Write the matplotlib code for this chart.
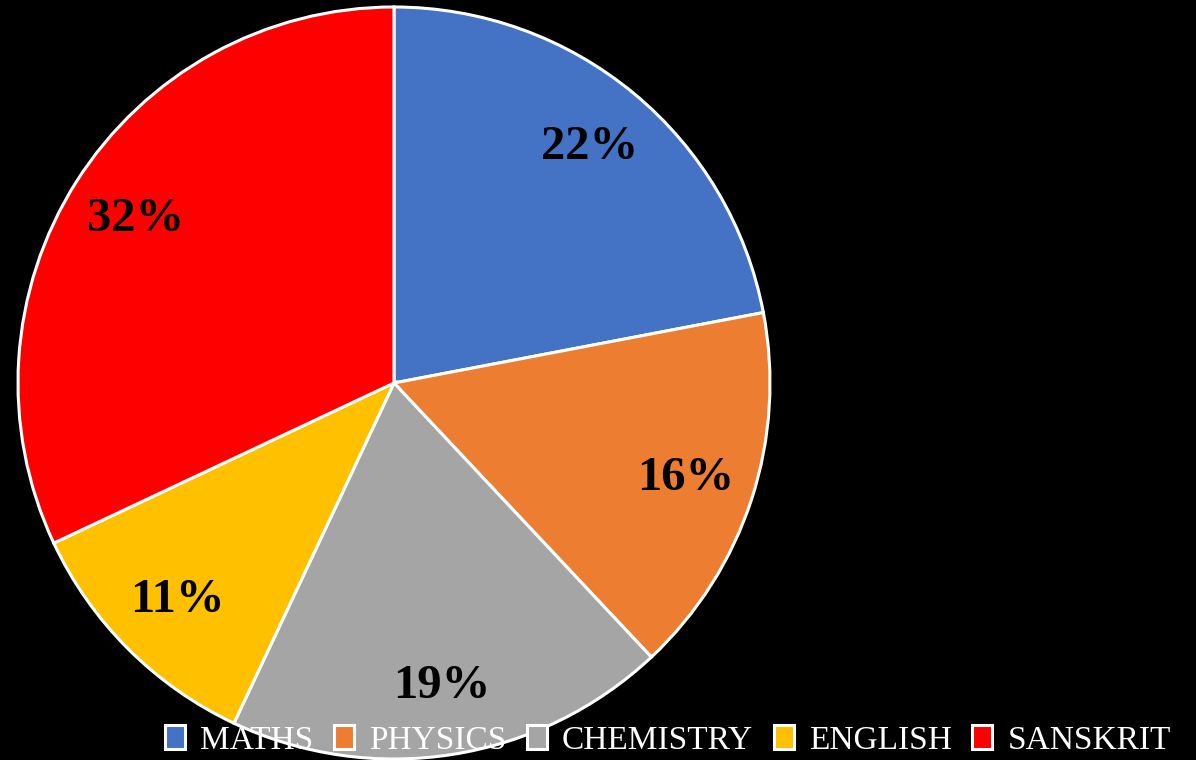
import matplotlib
matplotlib.use("Agg")
import matplotlib.pyplot as plt

subjects = ["MATHS", "PHYSICS", "CHEMISTRY", "ENGLISH", "SANSKRIT"]
shares = [22, 16, 19, 11, 32]
colors = ["#4472C4", "#ED7D31", "#A5A5A5", "#FFC000", "#FF0000"]

W, H = 1196, 760
fig = plt.figure(figsize=(W / 100, H / 100), dpi=100, facecolor="black")
ax = fig.add_axes([0, 0, 1, 1])
ax.set_facecolor("black")

wedges, texts, autotexts = ax.pie(
    shares, colors=colors, startangle=90, counterclock=False,
    center=(394, H - 383), radius=376,
    autopct="%1.0f%%", pctdistance=0.815,
    wedgeprops=dict(edgecolor="white", linewidth=2.2),
    textprops=dict(fontsize=35, fontweight="bold", family="Liberation Serif", color="black"),
)
ax.set_xlim(0, W)
ax.set_ylim(0, H)
ax.set_aspect("equal")
ax.axis("off")

leg = fig.legend(
    wedges, subjects, loc="lower right", bbox_to_anchor=(0.99, -0.012), ncol=5,
    frameon=False, prop=dict(family="Liberation Serif", size=24),
    handlelength=0.6, handleheight=0.75, handletextpad=0.45, columnspacing=0.62,
    borderaxespad=0.0,
)
for t in leg.get_texts():
    t.set_color("white")

fig.savefig("out.png", dpi=100, facecolor="black")
